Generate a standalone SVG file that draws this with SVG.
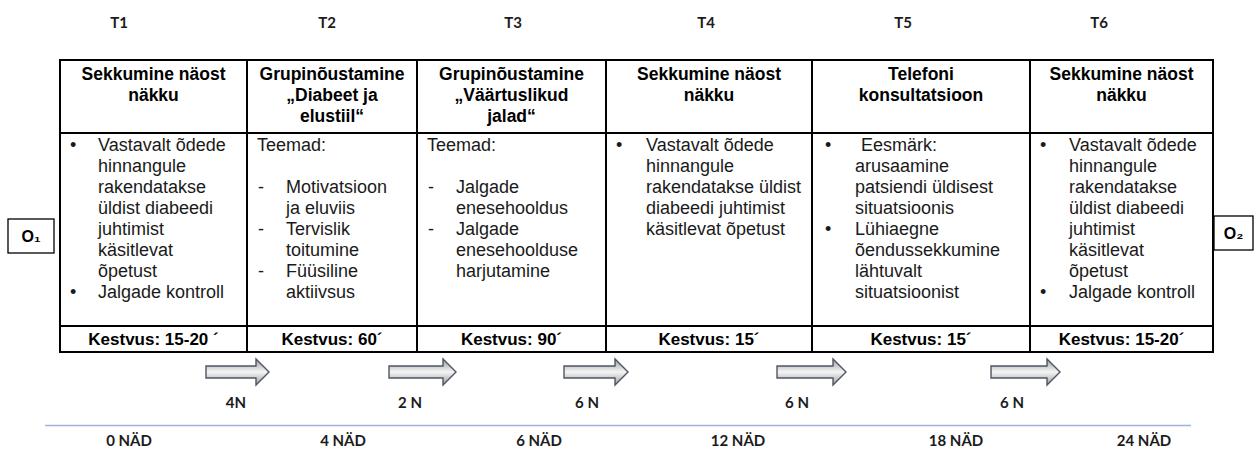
<svg xmlns="http://www.w3.org/2000/svg" width="1255" height="449" viewBox="0 0 1255 449">
  <style>
    .lbl { font-family: Lato, "Open Sans", sans-serif; font-weight: 700; font-size: 15px; fill: #1c1c1c; text-anchor: middle; }
    .hd { font-family: "Liberation Sans", Arial, sans-serif; font-weight: 700; font-size: 17.5px; fill: #000; text-anchor: middle; }
    .bd { font-family: "Liberation Sans", Arial, sans-serif; font-size: 18px; fill: #1a1a1a; }
    .dur { font-family: "Liberation Sans", Arial, sans-serif; font-weight: 700; font-size: 17px; fill: #000; text-anchor: middle; }
    .obx { fill: #fff; stroke: #000; stroke-width: 1.3; }
    .otx { font-family: "Liberation Sans", Arial, sans-serif; font-weight: 700; font-size: 16px; fill: #000; text-anchor: middle; }
    .grid { stroke: #000; stroke-width: 2; fill: none; }
    .arr { fill: url(#arrFill); stroke: #4f5563; stroke-width: 1.4; stroke-linejoin: miter; }
  </style>
  <defs>
    <linearGradient id="arrFill" x1="0" y1="0" x2="0" y2="1">
      <stop offset="0" stop-color="#9a9da3"/>
      <stop offset="0.5" stop-color="#f4f4f4"/>
      <stop offset="1" stop-color="#9a9da3"/>
    </linearGradient>
  </defs>

  <rect width="1255" height="449" fill="#fff"/>

  <!-- session labels -->
  <g id="session-labels">
    <text class="lbl" x="119" y="28">T1</text>
    <text class="lbl" x="327" y="28">T2</text>
    <text class="lbl" x="513" y="28">T3</text>
    <text class="lbl" x="706" y="28">T4</text>
    <text class="lbl" x="903" y="28">T5</text>
    <text class="lbl" x="1099" y="28">T6</text>
  </g>

  <!-- table grid -->
  <g id="grid" class="grid">
    <rect x="60" y="60" width="1153" height="292"/>
    <line x1="60" y1="133" x2="1213" y2="133"/>
    <line x1="60" y1="326" x2="1213" y2="326"/>
    <line x1="247" y1="60" x2="247" y2="352"/>
    <line x1="417" y1="60" x2="417" y2="352"/>
    <line x1="606" y1="60" x2="606" y2="352"/>
    <line x1="812" y1="60" x2="812" y2="352"/>
    <line x1="1030" y1="60" x2="1030" y2="352"/>
  </g>

  <!-- T1 -->
  <g id="t1">
    <text class="hd" x="153.5" y="80">Sekkumine näost</text>
    <text class="hd" x="153.5" y="101">näkku</text>
    <text class="bd" x="70" y="151">•</text>
    <text class="bd" x="98" y="151">Vastavalt õdede</text>
    <text class="bd" x="98" y="172">hinnangule</text>
    <text class="bd" x="98" y="193">rakendatakse</text>
    <text class="bd" x="98" y="214">üldist diabeedi</text>
    <text class="bd" x="98" y="235">juhtimist</text>
    <text class="bd" x="98" y="256">käsitlevat</text>
    <text class="bd" x="98" y="277">õpetust</text>
    <text class="bd" x="70" y="298">•</text>
    <text class="bd" x="98" y="298">Jalgade kontroll</text>
    <text class="dur" x="153.5" y="345">Kestvus: 15-20 ´</text>
  </g>

  <!-- T2 -->
  <g id="t2">
    <text class="hd" x="332" y="80">Grupinõustamine</text>
    <text class="hd" x="332" y="101">„Diabeet ja</text>
    <text class="hd" x="332" y="122">elustiil“</text>
    <text class="bd" x="257" y="151">Teemad:</text>
    <text class="bd" x="258" y="193">-</text>
    <text class="bd" x="286" y="193">Motivatsioon</text>
    <text class="bd" x="286" y="214">ja eluviis</text>
    <text class="bd" x="258" y="235">-</text>
    <text class="bd" x="286" y="235">Tervislik</text>
    <text class="bd" x="286" y="256">toitumine</text>
    <text class="bd" x="258" y="277">-</text>
    <text class="bd" x="286" y="277">Füüsiline</text>
    <text class="bd" x="286" y="298">aktiivsus</text>
    <text class="dur" x="332" y="345">Kestvus: 60´</text>
  </g>

  <!-- T3 -->
  <g id="t3">
    <text class="hd" x="511.5" y="80">Grupinõustamine</text>
    <text class="hd" x="511.5" y="101">„Väärtuslikud</text>
    <text class="hd" x="511.5" y="122">jalad“</text>
    <text class="bd" x="427" y="151">Teemad:</text>
    <text class="bd" x="428" y="193">-</text>
    <text class="bd" x="456" y="193">Jalgade</text>
    <text class="bd" x="456" y="214">enesehooldus</text>
    <text class="bd" x="428" y="235">-</text>
    <text class="bd" x="456" y="235">Jalgade</text>
    <text class="bd" x="456" y="256">enesehoolduse</text>
    <text class="bd" x="456" y="277">harjutamine</text>
    <text class="dur" x="511.5" y="345">Kestvus: 90´</text>
  </g>

  <!-- T4 -->
  <g id="t4">
    <text class="hd" x="709" y="80">Sekkumine näost</text>
    <text class="hd" x="709" y="101">näkku</text>
    <text class="bd" x="616" y="151">•</text>
    <text class="bd" x="646" y="151">Vastavalt õdede</text>
    <text class="bd" x="646" y="172">hinnangule</text>
    <text class="bd" x="646" y="193">rakendatakse üldist</text>
    <text class="bd" x="646" y="214">diabeedi juhtimist</text>
    <text class="bd" x="646" y="235">käsitlevat õpetust</text>
    <text class="dur" x="709" y="345">Kestvus: 15´</text>
  </g>

  <!-- T5 -->
  <g id="t5">
    <text class="hd" x="921" y="80">Telefoni</text>
    <text class="hd" x="921" y="101">konsultatsioon</text>
    <text class="bd" x="825" y="151">•</text>
    <text class="bd" x="861" y="151">Eesmärk:</text>
    <text class="bd" x="855" y="172">arusaamine</text>
    <text class="bd" x="855" y="193">patsiendi üldisest</text>
    <text class="bd" x="855" y="214">situatsioonis</text>
    <text class="bd" x="825" y="235">•</text>
    <text class="bd" x="855" y="235">Lühiaegne</text>
    <text class="bd" x="855" y="256">õendussekkumine</text>
    <text class="bd" x="855" y="277">lähtuvalt</text>
    <text class="bd" x="855" y="298">situatsioonist</text>
    <text class="dur" x="921" y="345">Kestvus: 15´</text>
  </g>

  <!-- T6 -->
  <g id="t6">
    <text class="hd" x="1121.5" y="80">Sekkumine näost</text>
    <text class="hd" x="1121.5" y="101">näkku</text>
    <text class="bd" x="1040" y="151">•</text>
    <text class="bd" x="1069" y="151">Vastavalt õdede</text>
    <text class="bd" x="1069" y="172">hinnangule</text>
    <text class="bd" x="1069" y="193">rakendatakse</text>
    <text class="bd" x="1069" y="214">üldist diabeedi</text>
    <text class="bd" x="1069" y="235">juhtimist</text>
    <text class="bd" x="1069" y="256">käsitlevat</text>
    <text class="bd" x="1069" y="277">õpetust</text>
    <text class="bd" x="1040" y="298">•</text>
    <text class="bd" x="1069" y="298">Jalgade kontroll</text>
    <text class="dur" x="1121.5" y="345">Kestvus: 15-20´</text>
  </g>

  <!-- measurement points -->
  <g id="o1">
    <rect class="obx" x="8" y="219" width="46" height="34"/>
    <text class="otx" x="31" y="242">O₁</text>
  </g>
  <g id="o2">
    <rect class="obx" x="1214" y="216" width="39" height="34"/>
    <text class="otx" x="1233.5" y="239">O₂</text>
  </g>

  <!-- connectors: interval arrows -->
  <g id="connectors">
    <path class="arr" d="M206,366 H256 V359 L269,372 L256,385 V378 H206 Z"/>
    <path class="arr" d="M389,366 H443 V359 L456,372 L443,385 V378 H389 Z"/>
    <path class="arr" d="M564,366 H615 V359 L628,372 L615,385 V378 H564 Z"/>
    <path class="arr" d="M777,366 H833 V359 L846,372 L833,385 V378 H777 Z"/>
    <path class="arr" d="M991,366 H1047 V359 L1060,372 L1047,385 V378 H991 Z"/>
  </g>

  <!-- interval labels -->
  <g id="intervals">
    <text class="lbl" x="236" y="408">4N</text>
    <text class="lbl" x="410" y="408">2 N</text>
    <text class="lbl" x="587" y="408">6 N</text>
    <text class="lbl" x="797" y="408">6 N</text>
    <text class="lbl" x="1012" y="408">6 N</text>
  </g>

  <!-- time axis -->
  <g id="axis">
    <line x1="45" y1="425.5" x2="1191" y2="425.5" stroke="#9db4de" stroke-width="1.5"/>
    <text class="lbl" x="129" y="446">0 NÄD</text>
    <text class="lbl" x="343" y="446">4 NÄD</text>
    <text class="lbl" x="539" y="446">6 NÄD</text>
    <text class="lbl" x="738" y="446">12  NÄD</text>
    <text class="lbl" x="956" y="446">18 NÄD</text>
    <text class="lbl" x="1144" y="446">24 NÄD</text>
  </g>
</svg>
